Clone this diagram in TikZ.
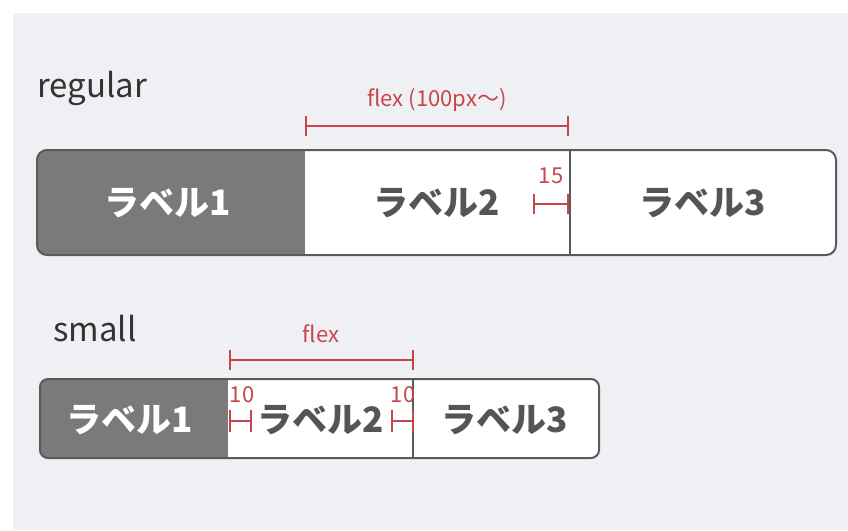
\documentclass[tikz,border=0pt]{standalone}
\usepackage{fontspec}
\setmainfont{Noto Sans CJK JP}
\newfontfamily\jp{Noto Sans CJK JP}
\definecolor{bgc}{HTML}{EFF0F4}
\definecolor{barline}{HTML}{5A5A5A}
\definecolor{darkfill}{HTML}{7A7A7A}
\definecolor{redc}{HTML}{C8464B}
\definecolor{txt}{HTML}{333333}
\definecolor{lbl}{HTML}{555555}
\tikzset{
  labeltxt/.style={font=\jp\bfseries\fontsize{35}{40}\selectfont, text=lbl, inner sep=0pt, anchor=center},
  darktxt/.style={labeltxt, text=white},
  headtxt/.style={font=\jp\fontsize{33}{37}\selectfont, text=txt, inner sep=0pt, anchor=base west},
  redtxt/.style={font=\jp\fontsize{22}{26}\selectfont, text=redc, inner sep=0pt, anchor=center},
  dimline/.style={draw=redc, line width=2.8pt},
  barborder/.style={draw=barline, line width=2pt},
}
\newcommand{\dimbar}[3]{%
  \draw[dimline] (#1) -- (#2);
  \draw[dimline] ([yshift=#3]#1) -- ([yshift=-#3]#1);
  \draw[dimline] ([yshift=#3]#2) -- ([yshift=-#3]#2);
}
\begin{document}
\begin{tikzpicture}[x=1pt,y=-1pt]
\useasboundingbox (0,0) rectangle (848,530);
\fill[white] (0,0) rectangle (848,530);
\fill[bgc] (13,13) rectangle (848,530);

% headings
\node[headtxt] (hreg) at (37,97) {regular};
\node[headtxt] (hsm) at (53,341) {small};

% regular bar
\begin{scope}
\clip[rounded corners=10pt] (37,150) rectangle (836,255);
\fill[white] (37,150) rectangle (836,255);
\fill[darkfill] (37,150) rectangle (305,255);
\end{scope}
\draw[barborder, rounded corners=10pt] (37,150) rectangle (836,255);
\draw[barborder] (570,150) -- (570,255);

\node[darktxt] (r1) at (168,203) {ラベル1};
\node[labeltxt] (r2) at (437,203) {ラベル2};
\node[labeltxt] (r3) at (703,203) {ラベル3};

% regular dimensions
\coordinate (fa) at (306,126);
\coordinate (fb) at (568,126);
\dimbar{fa}{fb}{10pt}
\node[redtxt] (flexr) at (437,100) {flex (100px〜)};
\coordinate (ga) at (534,204);
\coordinate (gb) at (568,204);
\dimbar{ga}{gb}{10pt}
\node[redtxt] (n15) at (551,176) {15};

% small bar
\begin{scope}
\clip[rounded corners=8pt] (40,379) rectangle (599,458);
\fill[white] (40,379) rectangle (599,458);
\fill[darkfill] (40,379) rectangle (228,458);
\end{scope}
\draw[barborder, rounded corners=8pt] (40,379) rectangle (599,458);
\draw[barborder] (413,379) -- (413,458);

\node[darktxt] (s1) at (130,420) {ラベル1};
\node[labeltxt] (s2) at (321,420) {ラベル2};
\node[labeltxt] (s3) at (505,420) {ラベル3};

% small dimensions
\coordinate (ha) at (230,360);
\coordinate (hb) at (413,360);
\dimbar{ha}{hb}{10pt}
\node[redtxt] (flexs) at (321,334) {flex};
\coordinate (ia) at (230,421);
\coordinate (ib) at (251,421);
\dimbar{ia}{ib}{11pt}
\node[redtxt] (n10a) at (242,395) {10};
\coordinate (ja) at (392,421);
\coordinate (jb) at (413,421);
\dimbar{ja}{jb}{11pt}
\node[redtxt] (n10b) at (403,395) {10};
\end{tikzpicture}
\end{document}
